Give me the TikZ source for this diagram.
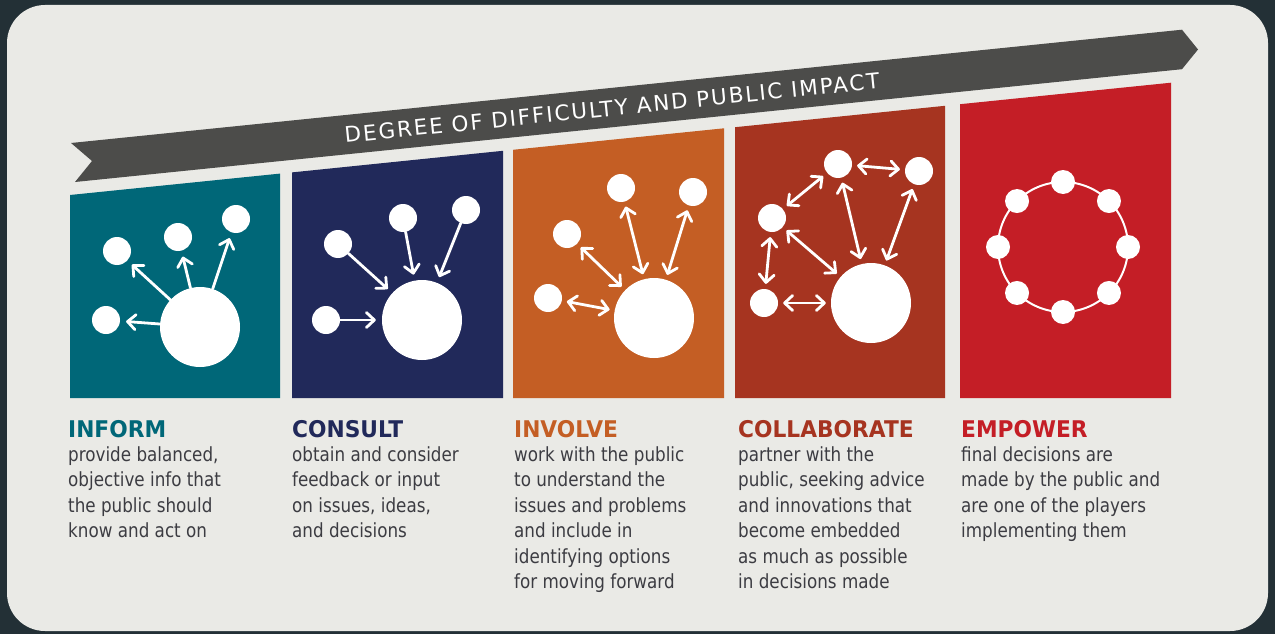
\documentclass[tikz,border=0pt]{standalone}
\usepackage{fontspec}
\setmainfont{DejaVu Sans}
\newfontfamily\bodyfont{DejaVu Sans}[FakeStretch=0.86]
\newfontfamily\headfont{DejaVu Sans}[FakeStretch=0.945]
\newfontfamily\bannerfont{DejaVu Sans}[LetterSpace=9]
\usetikzlibrary{arrows.meta,positioning}

\definecolor{frame}{RGB}{35,48,54}
\definecolor{paper}{RGB}{234,234,230}
\definecolor{ribbon}{RGB}{76,76,74}
\definecolor{inform}{RGB}{0,103,120}
\definecolor{consult}{RGB}{33,41,90}
\definecolor{involve}{RGB}{196,94,36}
\definecolor{collab}{RGB}{166,52,32}
\definecolor{empower}{RGB}{196,30,38}
\definecolor{bodytext}{RGB}{60,60,66}

\tikzset{
  dot/.style={circle,fill=white,inner sep=0pt,minimum size=28pt},
  hub/.style={circle,fill=white,inner sep=0pt,minimum size=80pt},
  ringdot/.style={circle,fill=white,inner sep=0pt,minimum size=24pt},
  link/.style={white,line width=2.8pt,line cap=round,
    -{Straight Barb[length=8pt,width=15pt,round]},shorten >=6pt},
  twoway/.style={link,{Straight Barb[length=8pt,width=15pt,round]}-{Straight Barb[length=8pt,width=15pt,round]},
    shorten <=5pt,shorten >=5pt},
  heading/.style={anchor=base west,inner sep=0pt,font=\headfont\bfseries\fontsize{23}{23}\selectfont},
  blurb/.style={anchor=north west,inner sep=0pt,align=left,text=bodytext,
    font=\bodyfont\fontsize{19.5}{25.5}\selectfont},
}

\begin{document}
\begin{tikzpicture}[x=1pt,y=1pt]
  % backdrop
  \fill[frame] (0,0) rectangle (1275,-634);
  \fill[paper,rounded corners=38pt] (7,-5) rectangle (1268,-631);

  % ribbon
  \fill[ribbon] (71,-143) -- (1182,-29.7) -- (1198,-49.5) -- (1182,-69.2) -- (75,-182) -- (92,-161) -- cycle;
  \node[rotate=5.8,text=white,inner sep=0pt,
    font=\bannerfont\fontsize{21.5}{21.5}\selectfont] (degree) at (612,-108)
    {DEGREE OF DIFFICULTY AND PUBLIC IMPACT};

  % panels
  \fill[inform]  (70,-398)  -- (70,-195)    -- (280,-173.6) -- (280,-398) -- cycle;
  \fill[consult] (292,-398) -- (292,-172.4) -- (503,-150.8) -- (503,-398) -- cycle;
  \fill[involve] (513,-398) -- (513,-149.8) -- (724,-128.3) -- (724,-398) -- cycle;
  \fill[collab]  (735,-398) -- (735,-127.2) -- (945,-105.8) -- (945,-398) -- cycle;
  \fill[empower] (960,-398) -- (960,-104.2) -- (1171,-82.7) -- (1171,-398) -- cycle;

  % inform
  \node[hub] (i0) at (200,-327) {};
  \node[dot] (i1) at (117,-251) {};
  \node[dot] (i2) at (178,-237) {};
  \node[dot] (i3) at (236,-219) {};
  \node[dot] (i4) at (106,-320) {};
  \foreach \n in {1,...,4}
    \draw[link] (i0) -- (i\n);

  % consult
  \node[hub] (c0) at (422,-320) {};
  \node[dot] (c1) at (338,-244) {};
  \node[dot] (c2) at (403,-218) {};
  \node[dot] (c3) at (466,-210) {};
  \node[dot] (c4) at (326,-320) {};
  \foreach \n in {1,...,4}
    \draw[link] (c\n) -- (c0);

  % involve
  \node[hub] (v0) at (654,-318) {};
  \node[dot] (v1) at (567,-234) {};
  \node[dot] (v2) at (621,-188) {};
  \node[dot] (v3) at (693,-192) {};
  \node[dot] (v4) at (548,-298) {};
  \foreach \n in {1,...,4}
    \draw[twoway] (v\n) -- (v0);

  % collaborate
  \node[hub] (k0) at (871,-303) {};
  \node[dot] (k1) at (838,-164) {};
  \node[dot] (k2) at (919,-171) {};
  \node[dot] (k3) at (772,-218) {};
  \node[dot] (k4) at (764,-303) {};
  \draw[twoway] (k1) -- (k2);
  \draw[twoway] (k3) -- (k1);
  \draw[twoway] (k3) -- (k4);
  \foreach \n in {1,...,4}
    \draw[twoway] (k\n) -- (k0);

  % empower
  \node[circle,draw=white,line width=2pt,inner sep=0pt,outer sep=0pt,minimum size=130pt] (ring) at (1063,-247) {};
  \foreach \a in {0,45,...,315}
    \node[ringdot] (e\a) at (ring.\a) {};

  % captions
  \node[heading,text=inform]  (h1) at (68,-437)  {INFORM};
  \node[heading,text=consult] (h2) at (292,-437) {CONSULT};
  \node[heading,text=involve] (h3) at (514,-437) {INVOLVE};
  \node[heading,text=collab]  (h4) at (738,-437) {COLLABORATE};
  \node[heading,text=empower] (h5) at (961,-437) {EMPOWER};

  \node[blurb] (t1) at (68,-446) {provide balanced,\\objective info that\\the public should\\know and act on};
  \node[blurb] (t2) at (292,-446) {obtain and consider\\feedback or input\\on issues, ideas,\\and decisions};
  \node[blurb] (t3) at (514,-446) {work with the public\\to understand the\\issues and problems\\and include in\\identifying options\\for moving forward};
  \node[blurb] (t4) at (738,-446) {partner with the\\public, seeking advice\\and innovations that\\become embedded\\as much as possible\\in decisions made};
  \node[blurb] (t5) at (961,-446) {final decisions are\\made by the public and\\are one of the players\\implementing them};
\end{tikzpicture}
\end{document}
